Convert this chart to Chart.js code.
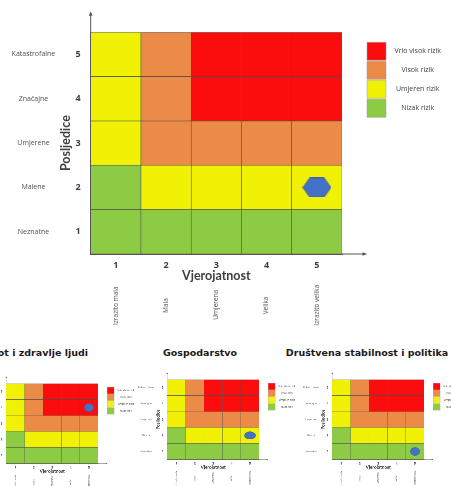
<!DOCTYPE html>
<html>
<head>
<meta charset="utf-8">
<script src="https://cdn.jsdelivr.net/npm/chart.js@4"></script>
<style>
html, body { margin: 0; padding: 0; background: #fff; width: 451px; height: 486px; overflow: hidden; position: relative; }
canvas { position: absolute; }
.small { transform-origin: 0 0; transform: scale(0.366, 0.36); }
.ptitle { position: absolute; top: 347px; font: bold 9.5px "DejaVu Sans"; line-height: 11px; color: #1a1a1a; white-space: nowrap; }
</style>
</head>
<body>
<canvas id="main" width="451" height="335" style="left:0;top:0"></canvas>
<div class="ptitle" id="t0" style="right:363px;text-align:right"></div>
<div class="ptitle" id="t1" style="left:100px;width:200px;text-align:center"></div>
<div class="ptitle" id="t2" style="left:267px;width:200px;text-align:center"></div>
<canvas id="s0" class="small" width="451" height="335" style="left:-27.2px;top:372.4px"></canvas>
<canvas id="s1" class="small" width="451" height="335" style="left:134.1px;top:368.4px"></canvas>
<canvas id="s2" class="small" width="451" height="335" style="left:298.5px;top:368.4px"></canvas>
<script>
// ---------------- data ----------------
const likelihoodTicks = [1, 2, 3, 4, 5];
const likelihoodNames = ['Izrazito mala', 'Mala', 'Umjerena', 'Velika', 'Izrazito velika'];
const consequenceTicks = [1, 2, 3, 4, 5];
const consequenceNames = ['Neznatne', 'Malene', 'Umjerene', 'Značajne', 'Katastrofalne'];
// risk level per consequence row, for likelihood 1..5 (0 = nizak, 1 = umjeren, 2 = visok, 3 = vrlo visok)
const riskRow1 = [0, 0, 0, 0, 0];
const riskRow2 = [0, 1, 1, 1, 1];
const riskRow3 = [1, 2, 2, 2, 2];
const riskRow4 = [1, 2, 3, 3, 3];
const riskRow5 = [1, 2, 3, 3, 3];
const riskLevelNames = ['Nizak rizik', 'Umjeren rizik', 'Visok rizik', 'Vrlo visok rizik'];
const axisTitleX = 'Vjerojatnost';
const axisTitleY = 'Posljedice';
const panelTitles = ['Život i zdravlje ljudi', 'Gospodarstvo', 'Društvena stabilnost i politika'];
const mainMarker = [5, 2];                       // [likelihood, consequence]
const panelMarkers = [[5, 4], [5, 2], [5, 1]];   // [likelihood, consequence]

// ---------------- styles ----------------
const riskMatrix = [riskRow1, riskRow2, riskRow3, riskRow4, riskRow5];
const riskColors = ['#8DCB44', '#F1F106', '#EC8B47', '#FC0D0D'];
const cellBorder = '#4f4f4f';
const axisColor = '#555555';
const markerBlue = '#4472C4';

Chart.defaults.font.family = 'Open Sans';
Chart.defaults.color = '#404040';

const measureCtx = document.createElement('canvas').getContext('2d');
const rotFont = '6.5px "Open Sans"';
function textW(t) { measureCtx.font = rotFont; return measureCtx.measureText(t).width; }
const maxNameW = Math.max(...likelihoodNames.map(textW));
const nbspW = textW('\u00A0');
const centredNames = likelihoodNames.map(n => n + '\u00A0'.repeat(Math.max(0, Math.round((maxNameW - textW(n)) / 2 / nbspW))));

function makeHexagon(w, h) {
  const c = document.createElement('canvas'); c.width = w; c.height = h;
  const g = c.getContext('2d'); const k = w * 0.25;
  g.beginPath(); g.moveTo(0.5, h / 2); g.lineTo(k, 0.5); g.lineTo(w - k, 0.5); g.lineTo(w - 0.5, h / 2);
  g.lineTo(w - k, h - 0.5); g.lineTo(k, h - 0.5); g.closePath();
  g.fillStyle = markerBlue; g.fill(); g.strokeStyle = '#3A62AE'; g.lineWidth = 1; g.stroke();
  return c;
}
function makeEllipse(w, h) {
  const c = document.createElement('canvas'); c.width = w; c.height = h;
  const g = c.getContext('2d');
  g.beginPath(); g.ellipse(w / 2, h / 2, w / 2 - 1, h / 2 - 1, 0, 0, Math.PI * 2);
  g.fillStyle = markerBlue; g.fill(); g.strokeStyle = '#3A62AE'; g.lineWidth = 1.5; g.stroke();
  return c;
}

const axisArrows = {
  id: 'axisArrows',
  afterDraw(chart) {
    const { ctx, chartArea: { left, top, right, bottom } } = chart;
    ctx.save();
    ctx.strokeStyle = axisColor; ctx.fillStyle = axisColor; ctx.lineWidth = 1;
    ctx.beginPath();
    ctx.moveTo(left, top); ctx.lineTo(left, top - 19);
    ctx.moveTo(right, bottom); ctx.lineTo(right + 23, bottom);
    ctx.stroke();
    ctx.beginPath(); ctx.moveTo(left, top - 21); ctx.lineTo(left - 1.8, top - 16.5); ctx.lineTo(left + 1.8, top - 16.5); ctx.closePath(); ctx.fill();
    ctx.beginPath(); ctx.moveTo(right + 25, bottom); ctx.lineTo(right + 20.5, bottom - 1.8); ctx.lineTo(right + 20.5, bottom + 1.8); ctx.closePath(); ctx.fill();
    ctx.restore();
  }
};

const setTicks = (vals) => (s) => { s.ticks = vals.map(v => ({ value: v })); };

function buildConfig(marker, markerImg) {
  const datasets = riskMatrix.map((row, r) => ({
    type: 'bar',
    label: consequenceNames[r],
    data: likelihoodTicks.map(x => ({ x: x, y: [consequenceTicks[r] - 0.5, consequenceTicks[r] + 0.5] })),
    backgroundColor: row.map(l => riskColors[l]),
    borderColor: cellBorder,
    borderWidth: 0.6,
    borderSkipped: false,
    grouped: false,
    barPercentage: 1,
    categoryPercentage: 1,
    order: 1
  }));
  datasets.push({
    type: 'scatter',
    label: 'procjena',
    data: [{ x: marker[0], y: marker[1] }],
    pointStyle: markerImg,
    pointRadius: 10,
    order: 0
  });
  return {
    type: 'bar',
    data: { datasets },
    options: {
      responsive: false,
      animation: false,
      events: [],
      layout: { padding: { top: 32.3, left: 0, right: 5, bottom: 6.8 } },
      plugins: {
        tooltip: { enabled: false },
        title: { display: false },
        legend: {
          display: true, position: 'right', align: 'start', fullSize: false,
          maxWidth: 95,
          onClick: null,
          title: { display: true, text: '', padding: 0, font: { size: 7.5 } },
          labels: {
            boxWidth: 19, boxHeight: 18, padding: 1, textAlign: 'center',
            color: '#404040', font: { size: 7 },
            generateLabels: () => riskLevelNames.map((t, i) => ({
              text: t, fillStyle: riskColors[i], strokeStyle: '#9a9a9a', lineWidth: 0.5, hidden: false
            })).reverse()
          }
        }
      },
      scales: {
        x: {
          type: 'linear', min: 0.5, max: 5.5, offset: false, position: 'bottom', weight: 0,
          afterBuildTicks: setTicks(likelihoodTicks),
          grid: { display: false, drawTicks: false, offset: false },
          border: { display: true, color: axisColor, width: 1 },
          ticks: { padding: 6, autoSkip: false, maxRotation: 0, color: '#404040', font: { size: 9, weight: 'bold' }, callback: v => String(Math.round(v)) },
          title: { display: true, text: axisTitleX, padding: 0, color: '#404040', font: { family: 'Lato', size: 12.5, weight: 'bold' } },
          afterFit: s => { s.height = 29.2; }
        },
        x2: {
          type: 'linear', min: 0.5, max: 5.5, offset: false, position: 'bottom', weight: 1,
          afterBuildTicks: setTicks(likelihoodTicks),
          grid: { display: false, drawTicks: false, offset: false },
          border: { display: false },
          ticks: { padding: 1.5, autoSkip: false, minRotation: 90, maxRotation: 90, color: '#505050', font: { size: 6.5 },
                   callback: v => centredNames[Math.round(v) - 1] },
          afterFit: s => { s.height = 45; }
        },
        y: {
          type: 'linear', min: 0.5, max: 5.5, position: 'left', weight: 0,
          afterBuildTicks: setTicks(consequenceTicks),
          grid: { display: false, drawTicks: false },
          border: { display: true, color: axisColor, width: 1 },
          ticks: { padding: 10, color: '#404040', font: { size: 9, weight: 'bold' }, callback: v => String(Math.round(v)) },
          title: { display: true, text: axisTitleY, padding: 0, color: '#404040', font: { family: 'Lato', size: 12.5, weight: 'bold' } },
          afterFit: s => { s.width = 32.4; }
        },
        y2: {
          type: 'linear', min: 0.5, max: 5.5, position: 'left', weight: 1,
          afterBuildTicks: setTicks(consequenceTicks),
          grid: { display: false, drawTicks: false },
          border: { display: false },
          ticks: { padding: 3, crossAlign: 'center', color: '#505050', font: { size: 7 }, callback: v => consequenceNames[Math.round(v) - 1] },
          afterFit: s => { s.width = 58.3; }
        },
        yR: {
          type: 'linear', position: 'right', display: true,
          grid: { display: false, drawTicks: false },
          ticks: { display: false },
          border: { display: false },
          afterFit: s => { s.width = 24; }
        }
      }
    },
    plugins: [axisArrows]
  };
}

new Chart(document.getElementById('main'), buildConfig(mainMarker, makeHexagon(29, 20)));
const ellipses = [makeEllipse(27, 24), makeEllipse(32, 22), makeEllipse(27, 24)];
panelMarkers.forEach((m, i) => {
  new Chart(document.getElementById('s' + i), buildConfig(m, ellipses[i]));
  document.getElementById('t' + i).textContent = panelTitles[i];
});
</script>
</body>
</html>
